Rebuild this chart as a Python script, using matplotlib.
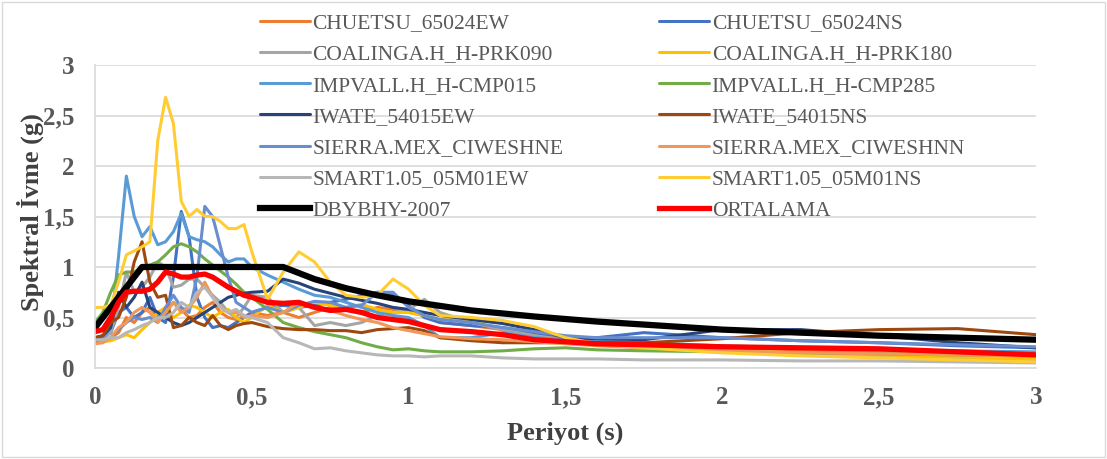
import matplotlib
matplotlib.use("Agg")
import matplotlib.pyplot as plt
from matplotlib.patches import Rectangle
from matplotlib.ticker import FuncFormatter, MultipleLocator

periods = [0, 0.025, 0.05, 0.075, 0.1, 0.125, 0.15, 0.175, 0.2, 0.225, 0.25, 0.275,
           0.3, 0.325, 0.35, 0.375, 0.4, 0.425, 0.45, 0.475, 0.5, 0.55, 0.6, 0.65,
           0.7, 0.75, 0.8, 0.85, 0.9, 0.95, 1.0, 1.05, 1.1, 1.2, 1.3, 1.4, 1.5, 1.6,
           1.75, 2.0, 2.25, 2.5, 2.75, 3.0]

chuetsu_ew = [0.25, 0.26, 0.3, 0.35, 0.5, 0.45, 0.55, 0.6, 0.5, 0.55, 0.65, 0.58,
              0.5, 0.52, 0.6, 0.65, 0.55, 0.5, 0.48, 0.5, 0.55, 0.52, 0.55, 0.5,
              0.55, 0.6, 0.58, 0.55, 0.6, 0.58, 0.55, 0.52, 0.45, 0.42, 0.38, 0.33, 0.28, 0.25,
              0.22, 0.2, 0.18, 0.16, 0.15, 0.14]
chuetsu_ns = [0.28, 0.3, 0.35, 0.55, 0.6, 0.5, 0.55, 0.7, 0.5, 0.45, 0.9, 1.55,
              1.3, 0.7, 0.5, 0.4, 0.42, 0.4, 0.45, 0.5, 0.55, 0.6, 0.62, 0.6,
              0.62, 0.65, 0.68, 0.72, 0.75, 0.72, 0.62, 0.5, 0.45, 0.42, 0.4, 0.35, 0.3, 0.3,
              0.35, 0.3, 0.27, 0.25, 0.22, 0.2]
coalinga_090 = [0.3, 0.3, 0.35, 0.6, 0.95, 0.75, 0.8, 0.9, 1.05, 1.0, 0.8, 0.82,
                0.88, 0.88, 0.8, 0.72, 0.65, 0.55, 0.5, 0.6, 0.72, 0.7, 0.55, 0.6,
                0.42, 0.45, 0.42, 0.45, 0.52, 0.55, 0.58, 0.68, 0.55, 0.45, 0.38, 0.32, 0.28, 0.24,
                0.2, 0.17, 0.14, 0.12, 0.1, 0.08]
coalinga_180 = [0.25, 0.26, 0.27, 0.3, 0.33, 0.3, 0.38, 0.45, 0.55, 0.6, 0.5, 0.55,
                0.62, 0.6, 0.55, 0.5, 0.55, 0.58, 0.5, 0.45, 0.5, 0.62, 0.55, 0.6,
                0.65, 0.62, 0.6, 0.63, 0.58, 0.55, 0.55, 0.52, 0.48, 0.47, 0.45, 0.38, 0.3, 0.25,
                0.2, 0.17, 0.15, 0.13, 0.11, 0.09]
impvall_015 = [0.3, 0.3, 0.4, 1.1, 1.9, 1.5, 1.3, 1.4, 1.22, 1.25, 1.35, 1.53,
               1.3, 1.27, 1.25, 1.2, 1.12, 1.05, 1.08, 1.08, 1.0, 0.92, 0.85, 0.78,
               0.72, 0.7, 0.65, 0.6, 0.55, 0.52, 0.5, 0.42, 0.3, 0.3, 0.35, 0.3, 0.28, 0.27,
               0.25, 0.22, 0.2, 0.18, 0.17, 0.16]
impvall_285 = [0.45, 0.55, 0.75, 0.92, 0.95, 0.95, 1.0, 1.02, 1.05, 1.12, 1.2, 1.23,
               1.2, 1.15, 1.08, 1.02, 0.96, 0.9, 0.83, 0.75, 0.7, 0.58, 0.45, 0.4,
               0.36, 0.33, 0.3, 0.25, 0.21, 0.18, 0.19, 0.17, 0.16, 0.16, 0.17, 0.19, 0.2, 0.18,
               0.17, 0.16, 0.15, 0.14, 0.13, 0.12]
iwate_ew = [0.3, 0.32, 0.4, 0.75, 0.6, 0.7, 0.85, 0.6, 0.55, 0.5, 0.45, 0.42,
            0.45, 0.5, 0.55, 0.6, 0.65, 0.7, 0.72, 0.74, 0.75, 0.76, 0.88, 0.84,
            0.78, 0.74, 0.7, 0.67, 0.64, 0.6, 0.58, 0.55, 0.52, 0.48, 0.44, 0.38, 0.3, 0.29,
            0.28, 0.38, 0.38, 0.32, 0.25, 0.2]
iwate_ns = [0.3, 0.32, 0.45, 0.5, 0.7, 1.05, 1.25, 0.85, 0.7, 0.72, 0.4, 0.42,
            0.5, 0.45, 0.42, 0.52, 0.42, 0.38, 0.42, 0.44, 0.45, 0.41, 0.39, 0.38,
            0.38, 0.37, 0.37, 0.35, 0.38, 0.39, 0.4, 0.37, 0.3, 0.27, 0.25, 0.25, 0.25, 0.25,
            0.25, 0.29, 0.35, 0.38, 0.39, 0.33]
sierra_ne = [0.27, 0.28, 0.3, 0.38, 0.45, 0.5, 0.48, 0.5, 0.45, 0.6, 0.72, 0.6,
             0.55, 0.9, 1.6, 1.5, 1.2, 0.9, 0.65, 0.6, 0.55, 0.6, 0.55, 0.62,
             0.66, 0.65, 0.6, 0.62, 0.75, 0.75, 0.6, 0.52, 0.48, 0.45, 0.4, 0.36, 0.32, 0.3,
             0.3, 0.3, 0.27, 0.25, 0.23, 0.21]
sierra_nn = [0.24, 0.25, 0.3, 0.4, 0.45, 0.55, 0.6, 0.55, 0.45, 0.55, 0.65, 0.55,
             0.6, 0.7, 0.85, 0.7, 0.6, 0.55, 0.55, 0.5, 0.52, 0.5, 0.55, 0.65,
             0.6, 0.57, 0.52, 0.48, 0.45, 0.4, 0.37, 0.34, 0.31, 0.29, 0.28, 0.26, 0.24, 0.22,
             0.2, 0.17, 0.15, 0.14, 0.13, 0.12]
smart_ew = [0.28, 0.28, 0.3, 0.3, 0.35, 0.38, 0.42, 0.45, 0.5, 0.5, 0.55, 0.65,
            0.6, 0.75, 0.8, 0.7, 0.6, 0.55, 0.58, 0.52, 0.5, 0.45, 0.3, 0.25,
            0.19, 0.2, 0.17, 0.15, 0.13, 0.12, 0.12, 0.11, 0.12, 0.12, 0.1, 0.09, 0.09, 0.09,
            0.08, 0.08, 0.07, 0.07, 0.06, 0.05]
smart_ns = [0.6, 0.6, 0.62, 0.85, 1.12, 1.16, 1.2, 1.25, 2.25, 2.68, 2.42, 1.65,
            1.5, 1.57, 1.5, 1.5, 1.45, 1.38, 1.38, 1.42, 1.15, 0.68, 0.95, 1.15,
            1.05, 0.85, 0.72, 0.7, 0.72, 0.88, 0.78, 0.62, 0.52, 0.5, 0.47, 0.41, 0.3, 0.24,
            0.2, 0.15, 0.12, 0.1, 0.08, 0.06]
ortalama = [0.36, 0.38, 0.5, 0.65, 0.75, 0.76, 0.76, 0.78, 0.85, 0.95, 0.93, 0.9,
            0.9, 0.92, 0.93, 0.9, 0.85, 0.8, 0.76, 0.72, 0.7, 0.65, 0.64, 0.65,
            0.6, 0.57, 0.58, 0.55, 0.5, 0.48, 0.46, 0.42, 0.38, 0.36, 0.33, 0.28, 0.26, 0.24,
            0.23, 0.21, 0.2, 0.19, 0.16, 0.13]

design_periods = [0, 0.15, 0.6, 0.7, 0.8, 0.9, 1.0, 1.2, 1.4, 1.6, 1.8, 2.0, 2.25, 2.5, 2.75, 3.0]
design_sa = [0.4, 1.0, 1.0, 0.88, 0.79, 0.72, 0.66, 0.57, 0.51, 0.46, 0.42, 0.38, 0.35, 0.32, 0.30, 0.28]

series = [
    ("CHUETSU_65024EW", chuetsu_ew, "#ED7D31"),
    ("CHUETSU_65024NS", chuetsu_ns, "#4472C4"),
    ("COALINGA.H_H-PRK090", coalinga_090, "#A5A5A5"),
    ("COALINGA.H_H-PRK180", coalinga_180, "#FFC000"),
    ("IMPVALL.H_H-CMP015", impvall_015, "#5B9BD5"),
    ("IMPVALL.H_H-CMP285", impvall_285, "#70AD47"),
    ("IWATE_54015EW", iwate_ew, "#264478"),
    ("IWATE_54015NS", iwate_ns, "#9E480E"),
    ("SIERRA.MEX_CIWESHNE", sierra_ne, "#698ED0"),
    ("SIERRA.MEX_CIWESHNN", sierra_nn, "#F1975A"),
    ("SMART1.05_05M01EW", smart_ew, "#B7B7B7"),
    ("SMART1.05_05M01NS", smart_ns, "#FFCD33"),
]

plt.rcParams['font.family'] = ['Liberation Serif', 'DejaVu Serif']

fig = plt.figure(figsize=(11.07, 4.59), dpi=100)
ax = fig.add_axes([95/1107, 1-368/459, (1036-95)/1107, (368-65)/459])

handles = []
for name, vals, col in series:
    h, = ax.plot(periods, vals, color=col, lw=2.2, label=name,
                 solid_joinstyle='round', solid_capstyle='round')
    handles.append(h)
h, = ax.plot(design_periods, design_sa, color="black", lw=4.5, label="DBYBHY-2007",
             solid_joinstyle='round')
handles.append(h)
h, = ax.plot(periods, ortalama, color="#FF0000", lw=3.8, label="ORTALAMA",
             solid_joinstyle='round')
handles.append(h)

ax.set_xlim(0, 3)
ax.set_ylim(0, 3)
ax.xaxis.set_major_locator(MultipleLocator(0.5))
ax.yaxis.set_major_locator(MultipleLocator(0.5))
fmt = FuncFormatter(lambda v, p: ("%g" % v).replace(".", ","))
ax.xaxis.set_major_formatter(fmt)
ax.yaxis.set_major_formatter(fmt)
ax.grid(axis='y', color='#D9D9D9', lw=1.2)
ax.set_axisbelow(True)
for s in ['top', 'right']:
    ax.spines[s].set_visible(False)
ax.spines['left'].set_color('#D9D9D9')
ax.spines['bottom'].set_color('#D9D9D9')
ax.spines['left'].set_linewidth(1.2)
ax.spines['bottom'].set_linewidth(1.2)
ax.tick_params(length=0, labelsize=18, labelcolor='#595959')
ax.tick_params(axis='x', pad=13)
ax.tick_params(axis='y', pad=15)
for lab in ax.get_xticklabels() + ax.get_yticklabels():
    lab.set_fontweight('bold')

ax.set_xlabel("Periyot (s)", fontsize=19, fontweight='bold', color='#404040')
ax.set_ylabel("Spektral İvme (g)", fontsize=19, fontweight='bold', color='#404040')
ax.xaxis.set_label_coords(0.5, (368-433)/303)
ax.yaxis.set_label_coords((30-95)/941, (368-212)/303)
ax.xaxis.label.set_va('center')
ax.yaxis.label.set_va('center')

order = [0, 2, 4, 6, 8, 10, 12, 1, 3, 5, 7, 9, 11, 13]
leg = fig.legend([handles[i] for i in order], [handles[i].get_label() for i in order],
                 ncol=2, loc='upper left', bbox_to_anchor=(260/1107, 1-13/459),
                 frameon=False, fontsize=15.5, handlelength=2.33, handletextpad=0.1,
                 labelspacing=0.52, columnspacing=4.46, borderpad=0, borderaxespad=0)
for t in leg.get_texts():
    t.set_color('#595959')

fig.patches.append(Rectangle((2/1107, 2/459), 1103/1107, 455/459, transform=fig.transFigure,
                             fill=False, edgecolor='#D9D9D9', lw=1))

fig.savefig("out.png", dpi=100)
